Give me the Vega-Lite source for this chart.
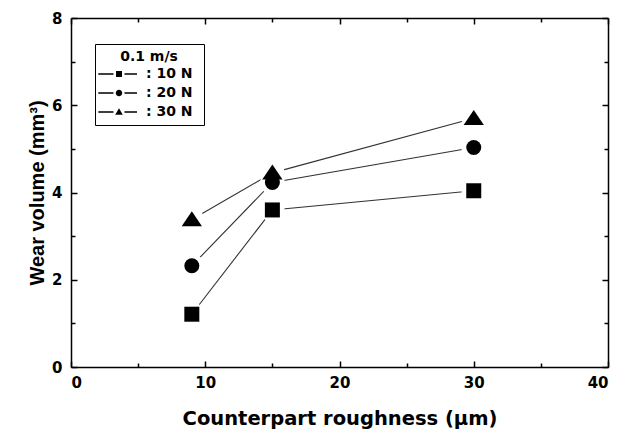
{
  "$schema": "https://vega.github.io/schema/vega-lite/v6.json",
  "width": 537,
  "height": 349,
  "autosize": "none",
  "padding": {"left": 71, "top": 18, "right": 11, "bottom": 65},
  "background": "white",
  "config": {
    "font": "DejaVu Sans",
    "view": {"stroke": null},
    "axis": {
      "domainColor": "black",
      "domainWidth": 1.5,
      "tickColor": "black",
      "tickWidth": 1.5,
      "grid": false,
      "labelFont": "DejaVu Sans",
      "labelFontWeight": "bold",
      "labelFontSize": 15,
      "labelColor": "black",
      "titleFontWeight": "bold",
      "titleColor": "black"
    }
  },
  "data": {
    "values": [
      {"roughness": 9, "volume": 1.21, "load": "10 N"},
      {"roughness": 15, "volume": 3.6, "load": "10 N"},
      {"roughness": 30, "volume": 4.04, "load": "10 N"},
      {"roughness": 9, "volume": 2.32, "load": "20 N"},
      {"roughness": 15, "volume": 4.23, "load": "20 N"},
      {"roughness": 30, "volume": 5.03, "load": "20 N"},
      {"roughness": 9, "volume": 3.38, "load": "30 N"},
      {"roughness": 15, "volume": 4.45, "load": "30 N"},
      {"roughness": 30, "volume": 5.7, "load": "30 N"}
    ]
  },
  "resolve": {
    "axis": {"x": "independent", "y": "independent"},
    "scale": {"shape": "independent"},
    "legend": {"shape": "independent"}
  },
  "layer": [
    {
      "mark": {"type": "line", "color": "#333333", "strokeWidth": 1.1},
      "encoding": {
        "x": {
          "field": "roughness", "type": "quantitative",
          "scale": {"domain": [0, 40], "nice": false, "zero": false},
          "axis": {
            "orient": "bottom",
            "values": [0, 5, 10, 15, 20, 25, 30, 35, 40],
            "labelExpr": "datum.value % 10 === 0 ? datum.label : ''",
            "tickSize": {"condition": {"test": "datum.value % 10 === 0", "value": -6}, "value": -4},
            "labelPadding": 14,
            "title": "Counterpart roughness  (μm)",
            "titleFont": "DejaVu Sans",
            "titleFontSize": 19.5,
            "titlePadding": 19
          }
        },
        "y": {
          "field": "volume", "type": "quantitative",
          "scale": {"domain": [0, 8], "nice": false},
          "axis": {
            "orient": "left",
            "values": [0, 1, 2, 3, 4, 5, 6, 7, 8],
            "labelExpr": "datum.value % 2 === 0 ? datum.label : ''",
            "tickSize": {"condition": {"test": "datum.value % 2 === 0", "value": -6}, "value": -4},
            "labelPadding": 15,
            "title": "Wear volume  (mm³)",
            "titleFont": "Liberation Sans",
            "titleFontSize": 20,
            "titlePadding": 4
          }
        },
        "detail": {"field": "load"}
      }
    },
    {
      "mark": {"type": "point", "filled": true, "color": "white", "opacity": 1, "shape": "circle", "size": 600},
      "encoding": {
        "x": {
          "field": "roughness", "type": "quantitative",
          "axis": {
            "orient": "top",
            "values": [0, 5, 10, 15, 20, 25, 30, 35, 40],
            "labels": false,
            "title": null,
            "tickSize": {"condition": {"test": "datum.value % 10 === 0", "value": -6}, "value": -4}
          }
        },
        "y": {
          "field": "volume", "type": "quantitative",
          "axis": {
            "orient": "right",
            "values": [0, 1, 2, 3, 4, 5, 6, 7, 8],
            "labels": false,
            "title": null,
            "tickSize": {"condition": {"test": "datum.value % 2 === 0", "value": -6}, "value": -4}
          }
        }
      }
    },
    {
      "mark": {"type": "point", "filled": true, "color": "black", "opacity": 1, "size": 225},
      "encoding": {
        "x": {"field": "roughness", "type": "quantitative", "axis": null},
        "y": {"field": "volume", "type": "quantitative", "axis": null},
        "shape": {
          "field": "load", "type": "nominal",
          "scale": {"domain": ["10 N", "20 N", "30 N"], "range": ["square", "circle", "M0,-1.1L1.35,0.9H-1.35Z"]},
          "legend": null
        }
      }
    },
    {
      "transform": [{"filter": "false"}],
      "mark": {"type": "point", "filled": true, "color": "black", "opacity": 1},
      "encoding": {
        "x": {"field": "roughness", "type": "quantitative", "axis": null},
        "y": {"field": "volume", "type": "quantitative", "axis": null},
        "shape": {
          "field": "load", "type": "nominal",
          "scale": {
            "domain": ["10 N", "20 N", "30 N"],
            "range": [
              "M-1.3,-0.08H0.39V0.08H-1.3Z M0.67,-0.33H1.33V0.33H0.67Z M1.61,-0.08H3V0.08H1.61Z",
              "M-1.3,-0.08H0.39V0.08H-1.3Z M0.64,0A0.36,0.36,0,1,0,1.36,0A0.36,0.36,0,1,0,0.64,0Z M1.61,-0.08H3V0.08H1.61Z",
              "M-1.3,-0.08H0.39V0.08H-1.3Z M1,-0.42L1.42,0.3H0.58Z M1.61,-0.08H3V0.08H1.61Z"
            ]
          },
          "legend": {
            "orient": "none",
            "legendX": 24,
            "legendY": 26,
            "title": "0.1 m/s",
            "titleFont": "DejaVu Sans",
            "titleFontWeight": "bold",
            "titleFontSize": 14,
            "titleColor": "black",
            "titleAnchor": "middle",
            "titlePadding": 1,
            "labelFont": "DejaVu Sans",
            "labelFontWeight": "bold",
            "labelFontSize": 14,
            "labelColor": "black",
            "labelExpr": "':  ' + datum.label",
            "labelOffset": 27,
            "symbolSize": 324,
            "symbolStrokeWidth": 0,
            "rowPadding": 3,
            "padding": 6,
            "strokeColor": "black"
          }
        }
      }
    }
  ]
}
